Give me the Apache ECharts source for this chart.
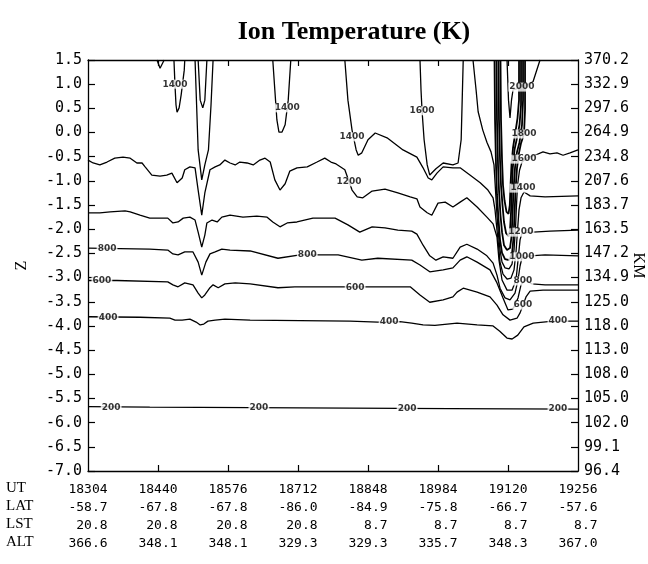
<!DOCTYPE html>
<html><head><meta charset="utf-8">
<script src="https://cdn.jsdelivr.net/npm/echarts@6/dist/echarts.min.js"></script>
<style>html,body{margin:0;padding:0;background:#fff}#c{width:648px;height:564px}</style>
</head><body><div id="c"></div>
<script>
// ---- table / tick labels ----
const utTicks = [18304,18440,18576,18712,18848,18984,19120,19256];
const latVals = ['-58.7','-67.8','-67.8','-86.0','-84.9','-75.8','-66.7','-57.6'];
const lstVals = ['20.8','20.8','20.8','20.8','8.7','8.7','8.7','8.7'];
const altVals = ['366.6','348.1','348.1','329.3','329.3','335.7','348.3','367.0'];
const rowNames = ['UT','LAT','LST','ALT'];
const kmLabels = ['370.2','332.9','297.6','264.9','234.8','207.6','183.7','163.5','147.2','134.9','125.0','118.0','113.0','108.0','105.0','102.0','99.1','96.4'];
const innerTicks = [18440,18576,18712,18848,18984,19120];

// ---- contour lines [UT, Z] ----
const c200 = [[18304,-5.67],[18424,-5.68],[18619,-5.69],[18813,-5.70],[19007,-5.71],[19256,-5.72]];
const c400 = [[18304,-3.81],[18405,-3.82],[18463,-3.84],[18473,-3.88],[18487,-3.88],[18502,-3.86],[18514,-3.92],[18522,-3.98],[18529,-3.96],[18537,-3.90],[18551,-3.88],[18570,-3.86],[18619,-3.88],[18716,-3.89],[18813,-3.90],[18867,-3.92],[18910,-3.91],[18933,-3.94],[18955,-3.98],[18978,-3.99],[19021,-3.94],[19060,-3.98],[19091,-4.00],[19104,-4.11],[19118,-4.25],[19128,-4.27],[19139,-4.19],[19151,-4.02],[19169,-3.94],[19198,-3.91],[19240,-3.90],[19256,-3.90]];
const c600 = [[18304,-3.06],[18360,-3.06],[18459,-3.09],[18469,-3.15],[18479,-3.19],[18492,-3.11],[18508,-3.15],[18518,-3.32],[18525,-3.42],[18531,-3.36],[18541,-3.21],[18547,-3.15],[18557,-3.21],[18570,-3.13],[18590,-3.11],[18619,-3.13],[18673,-3.21],[18706,-3.19],[18755,-3.19],[18867,-3.19],[18930,-3.19],[18949,-3.36],[18968,-3.51],[18994,-3.46],[19013,-3.40],[19021,-3.30],[19033,-3.22],[19060,-3.30],[19085,-3.40],[19098.6,-3.57],[19110.3,-3.77],[19123.9,-3.88],[19137.5,-3.84],[19143.4,-3.73],[19149.2,-3.57],[19155,-3.40],[19163,-3.28],[19188,-3.26],[19221,-3.26],[19256,-3.26]];
const c800 = [[18304,-2.39],[18366,-2.40],[18424,-2.41],[18459,-2.43],[18469,-2.51],[18479,-2.53],[18492,-2.47],[18508,-2.47],[18518,-2.68],[18525,-2.95],[18533,-2.68],[18541,-2.51],[18551,-2.47],[18564,-2.41],[18580,-2.43],[18619,-2.45],[18673,-2.60],[18716,-2.53],[18790,-2.53],[18836,-2.64],[18867,-2.60],[18933,-2.64],[18949,-2.74],[18968,-2.88],[18994,-2.84],[19013,-2.80],[19027,-2.64],[19040,-2.57],[19060,-2.68],[19085,-2.84],[19098.6,-3.11],[19110.3,-3.42],[19120,-3.67],[19129.7,-3.65],[19139.5,-3.42],[19145.3,-3.15],[19153.1,-3.05],[19166.6,-3.13],[19192,-3.15],[19256,-3.15]];
const c1000 = [[18304,-1.66],[18327,-1.66],[18347,-1.64],[18376,-1.62],[18386,-1.64],[18405,-1.71],[18424,-1.77],[18459,-1.77],[18469,-1.87],[18479,-1.85],[18489,-1.77],[18502,-1.75],[18512,-1.81],[18518,-2.06],[18525,-2.37],[18531,-2.12],[18535,-1.87],[18545,-1.81],[18555,-1.85],[18564,-1.75],[18580,-1.71],[18605,-1.75],[18632,-1.73],[18652,-1.75],[18663,-1.85],[18677,-1.95],[18691,-1.87],[18710,-1.85],[18741,-1.77],[18784,-1.77],[18809,-1.91],[18832,-2.06],[18856,-1.95],[18881,-1.97],[18906,-2.02],[18933,-2.04],[18943,-2.10],[18955,-2.33],[18968,-2.55],[18980,-2.64],[18994,-2.57],[19013,-2.60],[19027,-2.37],[19040,-2.31],[19060,-2.41],[19079,-2.55],[19091,-2.70],[19098.6,-2.95],[19104.5,-3.22],[19114.2,-3.42],[19123.9,-3.46],[19133.6,-3.32],[19139.5,-3.05],[19143.4,-2.76],[19147.2,-2.59],[19163,-2.55],[19192,-2.53],[19256,-2.55]];
const c1200 = [[18304,-0.57],[18314,-0.63],[18327,-0.67],[18341,-0.61],[18356,-0.53],[18372,-0.51],[18386,-0.53],[18399,-0.63],[18409,-0.63],[18415,-0.71],[18428,-0.88],[18444,-0.90],[18457,-0.88],[18467,-0.84],[18477,-1.04],[18487,-0.94],[18492,-0.77],[18502,-0.71],[18512,-0.73],[18518,-1.19],[18525,-1.71],[18531,-1.25],[18541,-0.77],[18551,-0.71],[18560,-0.67],[18570,-0.57],[18580,-0.63],[18590,-0.67],[18599,-0.61],[18613,-0.63],[18625,-0.67],[18638,-0.57],[18648,-0.53],[18658,-0.61],[18667,-0.98],[18677,-1.19],[18687,-1.06],[18696,-0.80],[18710,-0.73],[18730,-0.71],[18749,-0.61],[18764,-0.53],[18776,-0.61],[18786,-0.65],[18803,-0.77],[18817,-1.19],[18827,-1.33],[18838,-1.35],[18856,-1.21],[18881,-1.17],[18906,-1.25],[18930,-1.33],[18943,-1.37],[18949,-1.54],[18963,-1.66],[18972,-1.71],[18984,-1.46],[18998,-1.44],[19013,-1.54],[19027,-1.44],[19040,-1.35],[19060,-1.54],[19079,-1.75],[19091,-1.89],[19098.6,-2.16],[19102.5,-2.64],[19108.4,-3.05],[19118.1,-3.26],[19127.8,-3.26],[19135.6,-3.05],[19139.5,-2.64],[19143.4,-2.22],[19147.2,-2.08],[19168.6,-2.06],[19201.6,-2.04],[19256,-2.02]];
const c1400 = [[18803,1.50],[18809,0.67],[18817,0.05],[18825,-0.36],[18829,-0.47],[18836,-0.42],[18848,-0.15],[18862,-0.01],[18885,-0.11],[18916,-0.36],[18943,-0.51],[18955,-0.73],[18965,-0.94],[18972,-0.98],[18982,-0.84],[18994,-0.71],[19013,-0.73],[19027,-0.73],[19046,-0.88],[19066,-1.04],[19081,-1.19],[19091,-1.35],[19094.8,-1.60],[19098.6,-2.02],[19101.6,-2.33],[19104.5,-2.68],[19110.3,-2.93],[19118.1,-3.03],[19125.9,-3.01],[19131.7,-2.84],[19135.6,-2.47],[19138.5,-2.02],[19141.4,-1.60],[19145.3,-1.35],[19151.1,-1.23],[19163,-1.31],[19192,-1.33],[19256,-1.31]];
const c1400a = [[18471,1.50],[18473,0.98],[18475,0.57],[18477,0.42],[18481,0.51],[18485,0.78],[18491,1.29],[18492,1.50]];
const c1400b = [[18512,1.50],[18515,0.57],[18518,-0.36],[18525,-0.98],[18531,-0.67],[18538,-0.36],[18543,0.57],[18547,1.50]];
const c1400c = [[18663,1.50],[18667,0.88],[18671,0.26],[18675,0.01],[18681,0.01],[18687,0.16],[18693,0.67],[18698,1.50]];
const cSmall = [[18438,1.50],[18444,1.33],[18452,1.50]];
const c1600a = [[18518,1.50],[18522,0.67],[18527,0.51],[18531,0.67],[18535,1.50]];
const c1600b = [[18949,1.50],[18951,0.88],[18953,0.45],[18957,-0.15],[18963,-0.67],[18968,-0.88],[18980,-0.75],[18994,-0.63],[19013,-0.67],[19023,-0.63],[19029,-0.15],[19031,0.67],[19033,1.50]];
const c1600 = [[19052,1.50],[19058,0.88],[19062,0.43],[19071,0.05],[19079,-0.20],[19087,-0.40],[19092.8,-0.67],[19095.7,-1.19],[19098.6,-1.71],[19101.6,-2.12],[19104.5,-2.43],[19108.4,-2.68],[19114.2,-2.80],[19122,-2.82],[19127.8,-2.72],[19131.7,-2.43],[19134.6,-1.97],[19136.5,-1.50],[19138.5,-1.09],[19142.4,-0.78],[19147.2,-0.61],[19158.9,-0.51],[19172.5,-0.47],[19188,-0.40],[19201.6,-0.44],[19215.2,-0.42],[19226.9,-0.47],[19240.5,-0.42],[19256,-0.36]];
const c1800 = [[19093.8,1.50],[19094.8,0.26],[19096.7,-0.67],[19098.6,-1.29],[19101.6,-1.81],[19104.5,-2.22],[19108.4,-2.49],[19114.2,-2.62],[19122,-2.64],[19127.8,-2.51],[19130.7,-2.18],[19132.6,-1.71],[19134.6,-1.19],[19137.5,-0.73],[19141.4,-0.42],[19145.3,-0.22],[19151.1,-0.03],[19153.1,0.47],[19153.1,1.50]];
const c2000 = [[19097.7,1.50],[19098.6,0.26],[19100.6,-0.67],[19102.5,-1.19],[19105.4,-1.71],[19108.4,-2.06],[19112.2,-2.33],[19118.1,-2.43],[19123.9,-2.39],[19126.8,-2.16],[19128.8,-1.71],[19130.7,-1.19],[19133.6,-0.73],[19137.5,-0.40],[19142.4,-0.20],[19147.2,0.16],[19149.2,0.67],[19149.2,1.50]];
const c2200 = [[19101.6,1.50],[19102.5,0.26],[19104.5,-0.57],[19106.4,-1.09],[19109.3,-1.50],[19112.2,-1.85],[19116.2,-2.08],[19121,-2.14],[19123.9,-2.02],[19125.9,-1.64],[19127.4,-1.19],[19129.3,-0.73],[19132.6,-0.36],[19137.5,-0.11],[19142.4,0.16],[19145.3,0.57],[19145.3,1.50]];
const c2400 = [[19105.4,1.50],[19106.4,0.26],[19108.4,-0.57],[19110.3,-1.09],[19113.2,-1.40],[19117.1,-1.64],[19121,-1.68],[19123.5,-1.50],[19124.9,-1.09],[19126.8,-0.67],[19129.7,-0.32],[19133.6,-0.05],[19138.5,0.30],[19141.4,0.67],[19141.4,1.50]];
const c2000b = [[19118.1,1.50],[19121,0.67],[19123.9,0.30],[19126.8,0.67],[19129.7,0.88],[19147.2,0.94],[19168.6,1.05],[19182.2,1.50]];

// ---- contour labels [UT, Z, level] ----
const contourLabels = [
  [18349,-5.68,200],[18636,-5.69,200],[18924,-5.71,200],[19217,-5.72,200],
  [18343,-3.82,400],[18889,-3.92,400],[19217,-3.90,400],
  [18331,-3.07,600],[18823,-3.21,600],[19149,-3.57,600],
  [18341,-2.41,800],[18730,-2.53,800],[19149,-3.07,800],
  [19147,-2.57,1000],
  [18811,-1.02,1200],[19145,-2.06,1200],
  [18473,1.00,1400],[18691,0.51,1400],[18817,-0.09,1400],[19149,-1.15,1400],
  [18953,0.45,1600],[19151,-0.55,1600],
  [19151,-0.03,1800],
  [19147,0.94,2000]
];

const lines = [c200,c400,c600,c800,c1000,c1200,c1400,c1400a,c1400b,c1400c,cSmall,c1600a,c1600b,c1600,c2000b];
const bandLines = [c1800,c2000,c2200,c2400];

const chart = echarts.init(document.getElementById('c'), null, {renderer:'canvas'});
const axisFont = 'DejaVu Sans Mono';
const series = lines.map(d => ({
  type:'line', data:d, showSymbol:false, symbol:'none', silent:true, z:2,
  lineStyle:{color:'#000', width:1.3}, animation:false, clip:true
})).concat(bandLines.map(d => ({
  type:'line', data:d, showSymbol:false, symbol:'none', silent:true, z:2,
  lineStyle:{color:'#000', width:1.8}, animation:false, clip:true
})));
series.push({
  type:'scatter', data:contourLabels, symbolSize:1, silent:true, z:5,
  itemStyle:{color:'rgba(0,0,0,0)'}, animation:false,
  label:{show:true, position:'inside', formatter:p=>String(p.value[2]),
    fontFamily:'DejaVu Sans', fontWeight:'bold', fontSize:9, color:'#000',
    backgroundColor:'#fff', padding:[0,1]}
});

chart.setOption({
  animation:false,
  backgroundColor:'#fff',
  title:{text:'Ion Temperature (K)', left:349, top:14, textAlign:'center',
    textStyle:{fontFamily:'Liberation Serif', fontWeight:'bold', fontSize:26, color:'#000'}},
  grid:{left:88, right:70, top:60, bottom:93, containLabel:false, outerBoundsMode:'none'},
  xAxis:[{
    type:'value', min:18304, max:19256, position:'bottom',
    axisLine:{onZero:false, lineStyle:{color:'#000', width:1.3}},
    axisTick:{show:true, inside:true, length:6, customValues:innerTicks, lineStyle:{color:'#000', width:1.2}},
    splitLine:{show:false},
    axisLabel:{show:true, customValues:utTicks, showMinLabel:true, showMaxLabel:true, margin:10,
      fontFamily:axisFont, fontSize:13, color:'#000', lineHeight:18, align:'center',
      formatter:v=>{const i=utTicks.indexOf(Math.round(v)); if(i<0) return '';
        return [String(utTicks[i]), latVals[i].padStart(5,' '), lstVals[i].padStart(5,' '), altVals[i].padStart(5,' ')].join('\n');}}
  },{
    type:'value', min:18304, max:19256, position:'top',
    axisLine:{onZero:false, lineStyle:{color:'#000', width:1.3}},
    axisTick:{show:true, inside:true, length:6, customValues:innerTicks, lineStyle:{color:'#000', width:1.2}},
    splitLine:{show:false}, axisLabel:{show:false}
  }],
  yAxis:[{
    type:'value', min:-7, max:1.5, interval:0.5, position:'left',
    name:'Z', nameLocation:'middle', nameRotate:90, nameGap:58, nameMoveOverlap:false,
    nameTextStyle:{fontFamily:'Liberation Serif', fontSize:16, color:'#000'},
    axisLine:{show:true, onZero:false, lineStyle:{color:'#000', width:1.3}},
    axisTick:{show:true, inside:true, length:7, lineStyle:{color:'#000', width:1.2}},
    splitLine:{show:false},
    axisLabel:{fontFamily:axisFont, fontSize:15, color:'#000', margin:6, formatter:v=>v.toFixed(1)}
  },{
    type:'value', min:-7, max:1.5, interval:0.5, position:'right',
    name:'KM', nameLocation:'middle', nameRotate:-90, nameGap:52, nameMoveOverlap:false,
    nameTextStyle:{fontFamily:'Liberation Serif', fontSize:16, color:'#000'},
    axisLine:{show:true, onZero:false, lineStyle:{color:'#000', width:1.3}},
    axisTick:{show:true, inside:true, length:7, lineStyle:{color:'#000', width:1.2}},
    splitLine:{show:false},
    axisLabel:{fontFamily:axisFont, fontSize:15, color:'#000', margin:6,
      formatter:v=>kmLabels[Math.round((1.5 - v)/0.5)] || ''}
  }],
  graphic: rowNames.map((t,i)=>({type:'text', left:6, top:481 + i*18,
    style:{text:t, fontFamily:'Liberation Serif', fontSize:15, fill:'#000'}})),
  series: series
});
</script></body></html>
